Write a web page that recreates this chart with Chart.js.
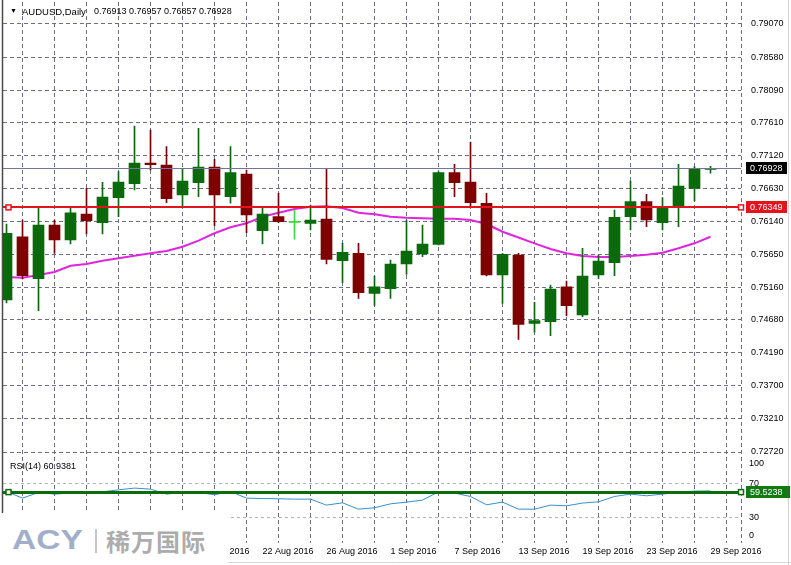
<!DOCTYPE html>
<html>
<head>
<meta charset="utf-8">
<script src="https://cdn.jsdelivr.net/npm/chart.js@4.4.0/dist/chart.umd.min.js"></script>
<style>
  html, body { margin: 0; padding: 0; background: #fff; }
  #wrap { position: relative; width: 791px; height: 565px; overflow: hidden; font-family: "Liberation Sans", Arial, sans-serif; }
  #grafico { position: absolute; left: 0; top: 0; }
  .txt { position: absolute; font-size: 9px; line-height: 11px; color: #000; white-space: pre; }
  #logo { position: absolute; left: 0; top: 513px; width: 228px; height: 52px; background: #fff; }
  #acy { position: absolute; left: 12px; top: 10px; font: bold 28px/34px "Liberation Sans", Arial, sans-serif; color: #a2afcb; transform: scaleX(1.2); transform-origin: left center; }
  #sep { position: absolute; left: 95px; top: 16px; width: 2px; height: 24px; background: #c4c4c4; }
  #cn { position: absolute; left: 106px; top: 11px; font: bold 24px/34px "Noto Sans CJK SC", sans-serif; letter-spacing: 1px; color: #acacac; }
</style>
</head>
<body>
<div id="wrap">
  <canvas id="grafico" width="791" height="565"></canvas>
  <div class="txt" style="left:10px; top:5px; font-size:7px;">&#9660;</div>
  <div class="txt" id="simbolo" style="left:22px; top:6px; font-size:9.5px;"></div>
  <div class="txt" id="ohlc" style="left:94px; top:6px;"></div>
  <div class="txt" id="rsiTitulo" style="left:10px; top:461px;"></div>
  <div id="logo"><span id="acy">ACY</span><span id="sep"></span><span id="cn">稀万国际</span></div>
</div>
<script>
// dados do gráfico
const simbolo = "AUDUSD,Daily";
const dates = ["29 Jul 2016", "1 Aug 2016", "2 Aug 2016", "3 Aug 2016", "4 Aug 2016", "5 Aug 2016",
  "8 Aug 2016", "9 Aug 2016", "10 Aug 2016", "11 Aug 2016", "12 Aug 2016", "15 Aug 2016",
  "16 Aug 2016", "17 Aug 2016", "18 Aug 2016", "19 Aug 2016", "22 Aug 2016", "23 Aug 2016",
  "24 Aug 2016", "25 Aug 2016", "26 Aug 2016", "29 Aug 2016", "30 Aug 2016", "31 Aug 2016",
  "1 Sep 2016", "2 Sep 2016", "5 Sep 2016", "6 Sep 2016", "7 Sep 2016", "8 Sep 2016",
  "9 Sep 2016", "12 Sep 2016", "13 Sep 2016", "14 Sep 2016", "15 Sep 2016", "16 Sep 2016",
  "19 Sep 2016", "20 Sep 2016", "21 Sep 2016", "22 Sep 2016", "23 Sep 2016", "26 Sep 2016",
  "27 Sep 2016", "28 Sep 2016", "29 Sep 2016"];

const open = [0.74975, 0.75914, 0.75291, 0.76088, 0.75865, 0.76251, 0.76122, 0.76493, 0.76701, 0.77008,
  0.76978, 0.76533, 0.76715, 0.76948, 0.76508, 0.76845, 0.76003, 0.76211, 0.76128, 0.76113,
  0.76177, 0.75558, 0.75668, 0.75074, 0.75143, 0.75509, 0.75657, 0.75801, 0.76864, 0.76726,
  0.76410, 0.75346, 0.75643, 0.74629, 0.74653, 0.75172, 0.74752, 0.75346, 0.75528, 0.76211,
  0.76434, 0.76122, 0.76344, 0.76632, 0.76913];
const high = [0.76103, 0.76162, 0.76344, 0.76162, 0.76344, 0.76632, 0.76721, 0.76879, 0.77557, 0.77497,
  0.77250, 0.76919, 0.77523, 0.77063, 0.77250, 0.76904, 0.76355, 0.76558, 0.76310, 0.76385,
  0.76919, 0.75816, 0.75816, 0.75331, 0.75568, 0.76162, 0.76088, 0.76879, 0.76988, 0.77319,
  0.76558, 0.75668, 0.75668, 0.74941, 0.75198, 0.75257, 0.75742, 0.75643, 0.76310, 0.76741,
  0.76543, 0.76493, 0.76988, 0.76953, 0.76957];
const low = [0.74931, 0.75287, 0.74816, 0.75668, 0.75806, 0.75954, 0.75954, 0.76211, 0.76607, 0.76904,
  0.76419, 0.76359, 0.76508, 0.76077, 0.76410, 0.75974, 0.75806, 0.76122, 0.75876, 0.76014,
  0.75509, 0.75232, 0.75000, 0.74896, 0.75000, 0.75356, 0.75617, 0.75791, 0.76508, 0.76370,
  0.75331, 0.74926, 0.74392, 0.74496, 0.74445, 0.74742, 0.74727, 0.75297, 0.75336, 0.76014,
  0.76063, 0.76014, 0.76063, 0.76444, 0.76857];
const close = [0.75965, 0.75336, 0.76088, 0.75865, 0.76270, 0.76152, 0.76503, 0.76726, 0.77008, 0.76983,
  0.76478, 0.76741, 0.76948, 0.76533, 0.76864, 0.76236, 0.76251, 0.76137, 0.76128, 0.76162,
  0.75579, 0.75683, 0.75083, 0.75172, 0.75509, 0.75702, 0.75806, 0.76864, 0.76715, 0.76419,
  0.75346, 0.75653, 0.74614, 0.74668, 0.75138, 0.74890, 0.75331, 0.75554, 0.76202, 0.76434,
  0.76162, 0.76350, 0.76666, 0.76919, 0.76928];

// média móvel (linha magenta)
const ma = [0.75316, 0.75306, 0.75346, 0.75390, 0.75484, 0.75509, 0.75558, 0.75594, 0.75632, 0.75668,
  0.75702, 0.75766, 0.75855, 0.75965, 0.76054, 0.76113, 0.76211, 0.76270, 0.76325, 0.76359,
  0.76365, 0.76340, 0.76270, 0.76246, 0.76211, 0.76196, 0.76187, 0.76181, 0.76181, 0.76162,
  0.76103, 0.75988, 0.75902, 0.75816, 0.75732, 0.75668, 0.75628, 0.75613, 0.75613, 0.75628,
  0.75647, 0.75677, 0.75742, 0.75816, 0.75914];

// RSI(14)
const rsi = [60.2, 52.5, 59.1, 57.2, 58.4, 58.4, 59.9, 62.2, 64.2, 63.0,
  57.2, 59.1, 59.1, 56.4, 60.2, 52.5, 52.0, 51.7, 51.3, 51.3,
  44.3, 47.0, 39.6, 41.2, 45.8, 47.8, 50.2, 59.9, 58.4, 54.4,
  44.7, 47.8, 39.6, 39.6, 44.3, 43.5, 46.7, 48.2, 54.4, 57.2,
  55.2, 57.2, 59.1, 60.7, 60.94];

const priceTicks = ["0.79070", "0.78580", "0.78090", "0.77610", "0.77120", "0.76630", "0.76140",
  "0.75650", "0.75160", "0.74680", "0.74190", "0.73700", "0.73210", "0.72720"];
const rsiTicks = ["100", "70", "30", "0"];

const ohlcHeader = ["0.76913", "0.76957", "0.76857", "0.76928"];
const bidPrice = 0.76928;
const linhaVermelha = 0.76349;
const rsiNivel = 59.5238;
const rsiAtual = "60.9381";

// textos
document.getElementById("simbolo").textContent = simbolo;
document.getElementById("ohlc").textContent = ohlcHeader.join(" ");
document.getElementById("rsiTitulo").textContent = "RSI(14) " + rsiAtual;

Chart.defaults.font.family = '"Liberation Sans", Arial, sans-serif';
Chart.defaults.font.size = 9;
Chart.defaults.color = "#000";

const corGrade = "#6c6c8c";
const corAlta = "#0a690a";
const corBaixa = "#7c0000";
const corDoji = "#3ad83a";

function corVela(i) {
  if (close[i] > open[i]) return corAlta;
  if (close[i] < open[i]) return corBaixa;
  return corDoji;
}

// largura fixa do eixo e sem folga extra em cima/embaixo
function eixoFixo(s) {
  s.width = 50;
  s.paddingTop = 0;
  s.paddingBottom = 0;
}

// linhas horizontais, marcadores e etiquetas
const niveis = {
  id: "niveis",
  beforeDraw(chart) {
    // rótulos 100 e 0 ficam dentro da janela do RSI, como no MT4
    const items = chart.scales.y2.getLabelItems();
    items.forEach((it) => {
      if (!it.options || !it.options.translation) return;
      if (it.label === "100") it.options.translation[1] += 6.5;
      if (it.label === "0") it.options.translation[1] -= 7;
    });
  },
  afterDatasetsDraw(chart) {
    const { ctx, chartArea: a, scales } = chart;
    const yBid = Math.round(scales.y.getPixelForValue(bidPrice)) + 0.5;
    const yRed = Math.round(scales.y.getPixelForValue(linhaVermelha));
    const yRsi = Math.round(scales.y2.getPixelForValue(rsiNivel)) + 0.5;
    ctx.save();
    ctx.lineWidth = 1;
    ctx.strokeStyle = "#74749a";
    ctx.beginPath(); ctx.moveTo(a.left, yBid); ctx.lineTo(a.right, yBid); ctx.stroke();
    ctx.lineWidth = 2;
    ctx.strokeStyle = "#e4141c";
    ctx.beginPath(); ctx.moveTo(a.left, yRed); ctx.lineTo(a.right, yRed); ctx.stroke();
    ctx.lineWidth = 3;
    ctx.strokeStyle = "#0c6c0c";
    ctx.beginPath(); ctx.moveTo(a.left, yRsi); ctx.lineTo(a.right, yRsi); ctx.stroke();
    ctx.restore();
  },
  afterDraw(chart) {
    const { ctx, chartArea: a, scales } = chart;
    ctx.save();
    // borda direita tracejada e borda esquerda
    ctx.strokeStyle = corGrade;
    ctx.lineWidth = 1;
    ctx.setLineDash([4, 3]);
    ctx.beginPath(); ctx.moveTo(a.right + 0.5, a.top); ctx.lineTo(a.right + 0.5, a.bottom); ctx.stroke();
    ctx.setLineDash([]);
    ctx.strokeStyle = "#4a4a4a";
    ctx.lineWidth = 1.5;
    ctx.beginPath(); ctx.moveTo(a.left - 0.5, 0); ctx.lineTo(a.left - 0.5, a.bottom); ctx.stroke();
    // moldura clara da janela
    ctx.strokeStyle = "#d4d4d4";
    ctx.lineWidth = 1;
    ctx.beginPath(); ctx.moveTo(0, 562.5); ctx.lineTo(791, 562.5); ctx.stroke();
    ctx.beginPath(); ctx.moveTo(788.5, 0); ctx.lineTo(788.5, 565); ctx.stroke();

    const yBid = scales.y.getPixelForValue(bidPrice);
    const yRed = scales.y.getPixelForValue(linhaVermelha);
    const yRsi = scales.y2.getPixelForValue(rsiNivel);

    const marcador = (x, y, cor) => {
      ctx.fillStyle = "#fff";
      ctx.strokeStyle = cor;
      ctx.lineWidth = 1.5;
      ctx.fillRect(x - 2.5, y - 2.5, 5, 5);
      ctx.strokeRect(x - 2.5, y - 2.5, 5, 5);
    };
    marcador(a.left + 5.5, yRed, "#e4141c");
    marcador(a.right, yRed, "#e4141c");
    marcador(a.left + 5.5, yRsi, "#0c6c0c");
    marcador(a.right, yRsi, "#0c6c0c");

    const etiqueta = (texto, y, fundo, largura) => {
      ctx.fillStyle = fundo;
      ctx.fillRect(a.right + 5, Math.round(y) - 6, largura, 12);
      ctx.fillStyle = "#fff";
      ctx.font = '9px "Liberation Sans", Arial, sans-serif';
      ctx.textBaseline = "middle";
      ctx.textAlign = "left";
      ctx.fillText(texto, a.right + 9, Math.round(y) + 0.5);
    };
    etiqueta(bidPrice.toFixed(5), yBid, "#000", 41);
    etiqueta(linhaVermelha.toFixed(5), yRed, "#e4141c", 41);
    etiqueta(rsiNivel.toFixed(4), yRsi, "#137a13", 44);
    ctx.restore();
  }
};

const ctx = document.getElementById("grafico").getContext("2d");
const chart = new Chart(ctx, {
  type: "bar",
  data: {
    datasets: [
      {
        type: "line",
        label: "MA",
        data: dates.map((d, i) => ({ x: i, y: ma[i] })),
        yAxisID: "y",
        borderColor: "#df26df",
        borderWidth: 2,
        pointRadius: 0,
        order: 5,
      },
      {
        label: "pavios",
        data: dates.map((d, i) => ({ x: i, y: [low[i], high[i]] })),
        yAxisID: "y",
        backgroundColor: (c) => corVela(c.dataIndex),
        barThickness: 1,
        grouped: false,
        order: 4,
      },
      {
        label: "corpos",
        data: dates.map((d, i) => ({ x: i, y: [open[i], close[i]] })),
        yAxisID: "y",
        backgroundColor: (c) => corVela(c.dataIndex),
        barThickness: 11,
        minBarLength: 1,
        grouped: false,
        order: 3,
      },
      {
        type: "line",
        label: "RSI",
        data: dates.map((d, i) => ({ x: i, y: rsi[i] })),
        yAxisID: "y2",
        borderColor: "#3590d0",
        borderWidth: 1,
        pointRadius: 0,
        order: 1,
      },
    ],
  },
  options: {
    responsive: false,
    animation: false,
    layout: { padding: { top: 2, left: 3, right: 0, bottom: 0 } },
    plugins: { legend: { display: false }, tooltip: { enabled: false } },
    scales: {
      x: {
        type: "linear",
        position: "bottom",
        min: -0.219,
        max: 45.906,
        offset: false,
        grid: { color: corGrade, drawTicks: false },
        border: { display: false, dash: [4, 3] },
        ticks: {
          stepSize: 2,
          includeBounds: false,
          autoSkip: false,
          maxRotation: 0,
          minRotation: 0,
          align: "start",
          padding: 3,
          callback: (v) => (v % 4 === 0 ? dates[v] : ""),
        },
        afterFit: (s) => { s.height = 22; },
      },
      y: {
        position: "right",
        stack: "janelas",
        stackWeight: 455.5,
        min: 0.726384,
        max: 0.793964,
        grid: { color: corGrade, drawTicks: false },
        border: { display: false, dash: [4, 3] },
        afterBuildTicks: (s) => { s.ticks = priceTicks.map((t) => ({ value: parseFloat(t) })); },
        ticks: { padding: 10, callback: (v, i) => priceTicks[i] },
        afterFit: eixoFixo,
      },
      y2: {
        position: "right",
        stack: "janelas",
        stackWeight: 85.5,
        min: 0,
        max: 100,
        grid: {
          color: (c) => (c.tick && (c.tick.value === 70 || c.tick.value === 30) ? "#b4b4b4" : "rgba(0,0,0,0)"),
          drawTicks: false,
        },
        border: { display: false, dash: [3, 3] },
        afterBuildTicks: (s) => { s.ticks = rsiTicks.map((t) => ({ value: parseFloat(t) })); },
        ticks: { padding: 8, callback: (v, i) => rsiTicks[i] },
        afterFit: eixoFixo,
      },
    },
  },
  plugins: [niveis],
});
</script>
</body>
</html>
